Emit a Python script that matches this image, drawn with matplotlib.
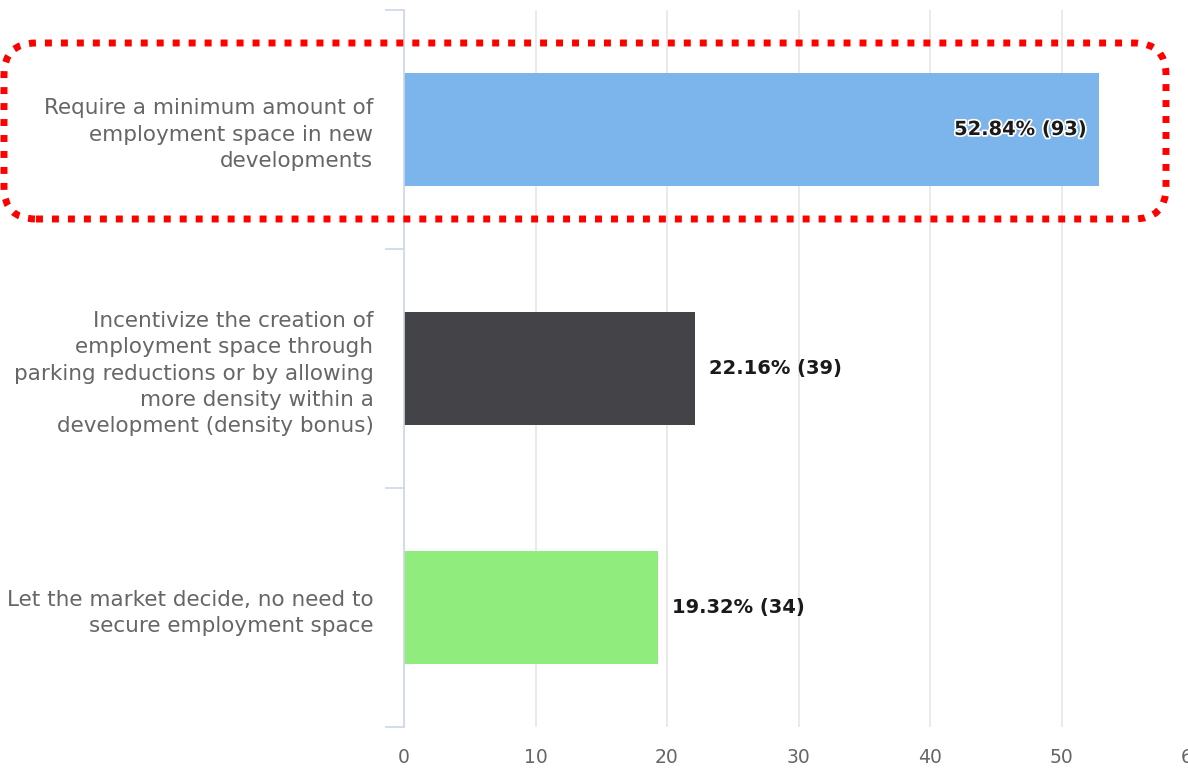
import matplotlib
matplotlib.use("Agg")
import matplotlib.pyplot as plt
from matplotlib.patches import FancyBboxPatch
import matplotlib.patheffects as pe

categories = [
    "Require a minimum amount of\nemployment space in new\ndevelopments",
    "Incentivize the creation of\nemployment space through\nparking reductions or by allowing\nmore density within a\ndevelopment (density bonus)",
    "Let the market decide, no need to\nsecure employment space",
]
percents = [52.84, 22.16, 19.32]
counts = [93, 39, 34]
colors = ["#7cb5ec", "#434348", "#90ed7d"]
xticks = [0, 10, 20, 30, 40, 50, 60]

W, H, DPI = 11.88, 7.70, 100
fig = plt.figure(figsize=(W, H), dpi=DPI)
fig.patch.set_facecolor("white")

ax_left, ax_right, ax_top, ax_bottom = 404, 1193, 10, 727
ax = fig.add_axes([ax_left / 1188, (770 - ax_bottom) / 770,
                   (ax_right - ax_left) / 1188, (ax_bottom - ax_top) / 770])

ypos = list(range(len(categories)))
ax.barh(ypos, percents, height=0.47, color=colors, zorder=3)
ax.set_xlim(0, 60)
ax.set_ylim(len(categories) - 0.5, -0.5)

for sp in ["top", "right", "bottom"]:
    ax.spines[sp].set_visible(False)
ax.spines["left"].set_color("#ccd6eb")
ax.spines["left"].set_linewidth(1.2)
ax.spines["left"].set_zorder(4)

ax.set_xticks(xticks)
ax.set_xticklabels([str(t) for t in xticks])
ax.tick_params(axis="x", length=0, pad=15, labelsize=13.5, labelcolor="#666666")
ax.grid(axis="x", color="#e6e6e6", linewidth=1.2, zorder=0)

ax.set_yticks(ypos)
ax.set_yticklabels(categories, fontsize=15.5, color="#666666", linespacing=1.38)
ax.tick_params(axis="y", which="major", length=0, pad=22)
ax.set_yticks([i - 0.5 for i in range(len(categories) + 1)], minor=True)
ax.tick_params(axis="y", which="minor", length=14, width=1.2, color="#ccd6eb")

for i, (p, c) in enumerate(zip(percents, counts)):
    label = f"{p:.2f}% ({c})"
    if p > 40:
        ax.text(p - 0.9, i, label, ha="right", va="center", fontsize=14,
                fontweight="bold", color="#1a1a1a", zorder=5,
                path_effects=[pe.withStroke(linewidth=2.5, foreground="white")])
    else:
        ax.text(p + 1.05, i, label, ha="left", va="center",
                fontsize=14, fontweight="bold", color="#1a1a1a", zorder=5)

# red dotted highlight box (pixel geometry via inches transform)
x0, x1, y0, y1 = 4, 1166, 43, 219
box = FancyBboxPatch((x0 / DPI, (770 - y1) / DPI), (x1 - x0) / DPI, (y1 - y0) / DPI,
                     boxstyle="round,pad=0,rounding_size=0.32",
                     transform=fig.dpi_scale_trans, fill=False,
                     edgecolor="#ff0000", linewidth=5.0,
                     linestyle=(0, (1.0, 1.3)), zorder=10)
fig.patches.append(box)

fig.savefig("out.png", dpi=DPI, facecolor="white")
